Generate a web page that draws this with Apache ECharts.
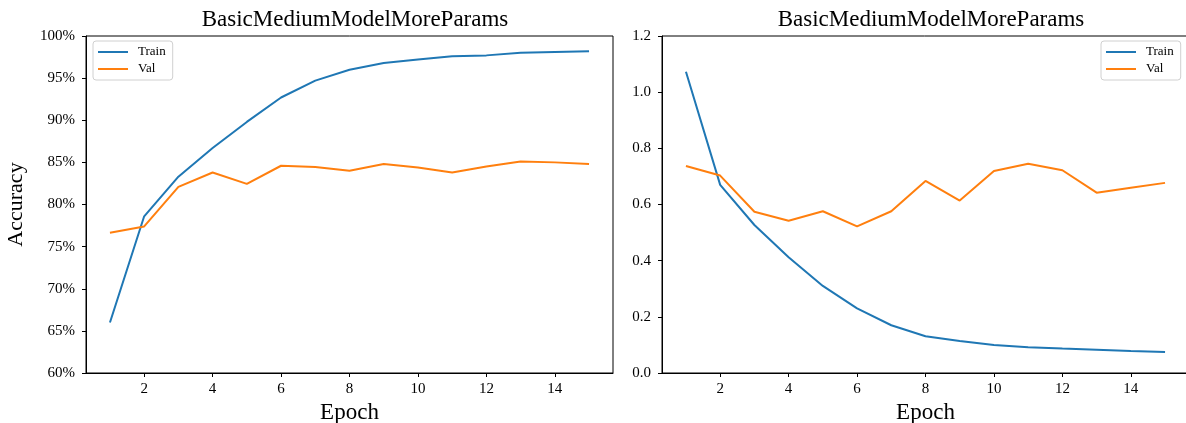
<!DOCTYPE html>
<html>
<head>
<meta charset="utf-8">
<script src="https://cdn.jsdelivr.net/npm/echarts@6/dist/echarts.min.js"></script>
<style>
  html, body { margin: 0; padding: 0; background: #fff; }
  #chart { width: 1186px; height: 423px; }
</style>
</head>
<body>
<div id="chart"></div>
<script>
// Training history of BasicMediumModelMoreParams over 15 epochs
const epochs = [1, 2, 3, 4, 5, 6, 7, 8, 9, 10, 11, 12, 13, 14, 15];

// accuracy (%)
const trainAcc = [66.0, 78.6, 83.3, 86.7, 89.8, 92.7, 94.7, 96.0, 96.8, 97.2, 97.6, 97.7, 98.0, 98.1, 98.2];
const valAcc   = [76.65, 77.4, 82.1, 83.8, 82.45, 84.6, 84.45, 84.0, 84.8, 84.4, 83.8, 84.5, 85.1, 85.0, 84.8];

// loss
const trainLoss = [1.073, 0.670, 0.527, 0.412, 0.310, 0.230, 0.170, 0.131, 0.114, 0.100, 0.092, 0.087, 0.083, 0.078, 0.075];
const valLoss   = [0.737, 0.703, 0.574, 0.542, 0.576, 0.522, 0.576, 0.684, 0.614, 0.719, 0.745, 0.722, 0.642, 0.660, 0.677];

const xTicks = [2, 4, 6, 8, 10, 12, 14];
const titleText = 'BasicMediumModelMoreParams';
const seriesNames = ['Train', 'Val'];

const BLUE = '#1f77b4';
const ORANGE = '#ff7f0e';
const FONT = '"Liberation Serif", "DejaVu Serif", serif';

const pairs = (xs, ys) => xs.map((x, i) => [x, ys[i]]);

function xAxisFor(gridIndex) {
  return {
    type: 'value', gridIndex: gridIndex, min: 0.3, max: 15.7,
    name: 'Epoch', nameLocation: 'middle', nameGap: 28,
    nameTextStyle: { fontFamily: FONT, fontSize: 23, color: '#000' },
    axisLine: { show: true, lineStyle: { color: '#000', width: 1 } },
    axisTick: { show: true, inside: false, length: 4, customValues: xTicks, lineStyle: { color: '#000' } },
    axisLabel: { customValues: xTicks, fontFamily: FONT, fontSize: 15, color: '#000', margin: 9 },
    splitLine: { show: false }
  };
}

function yAxisFor(gridIndex, opts) {
  return Object.assign({
    type: 'value', gridIndex: gridIndex,
    axisLine: { show: true, onZero: false, lineStyle: { color: '#000', width: 1 } },
    axisTick: { show: true, inside: false, length: 4, lineStyle: { color: '#000' } },
    splitLine: { show: false }
  }, opts);
}

function lineSeries(name, xIdx, data, color) {
  return {
    name: name, type: 'line', xAxisIndex: xIdx, yAxisIndex: xIdx,
    data: data, showSymbol: false, symbol: 'none', animation: false,
    lineStyle: { color: color, width: 2 }, itemStyle: { color: color }
  };
}

function legendAt(pos) {
  return Object.assign({
    data: seriesNames, orient: 'vertical', itemWidth: 30, itemHeight: 2, itemGap: 3,
    icon: 'rect', padding: [4, 7, 4, 5],
    borderColor: '#d0d0d0', borderWidth: 1, borderRadius: 3,
    backgroundColor: 'rgba(255,255,255,0.8)',
    selectedMode: false,
    textStyle: { fontFamily: FONT, fontSize: 13, color: '#000', lineHeight: 14, padding: [0, 0, 0, 5] }
  }, pos);
}

function gridAt(left) {
  return {
    left: left, top: 36, width: 527, height: 337,
    show: true, borderColor: '#000', borderWidth: 1,
    containLabel: false, outerBoundsMode: 'none'
  };
}

const chart = echarts.init(document.getElementById('chart'), null, { renderer: 'canvas' });
chart.setOption({
  animation: false,
  backgroundColor: '#fff',
  title: [
    { text: titleText, left: 350, top: 3, textAlign: 'center',
      textStyle: { fontFamily: FONT, fontSize: 23, fontWeight: 'normal', color: '#000' } },
    { text: titleText, left: 926, top: 3, textAlign: 'center',
      textStyle: { fontFamily: FONT, fontSize: 23, fontWeight: 'normal', color: '#000' } }
  ],
  legend: [
    legendAt({ left: 93, top: 41 }),
    legendAt({ left: 1101, top: 41 })
  ],
  grid: [gridAt(86), gridAt(662)],
  xAxis: [xAxisFor(0), xAxisFor(1)],
  yAxis: [
    yAxisFor(0, {
      min: 60, max: 100, interval: 5,
      name: 'Accuracy', nameLocation: 'middle', nameGap: 59,
      nameTextStyle: { fontFamily: FONT, fontSize: 22, color: '#000' },
      axisLabel: { formatter: '{value}%', fontFamily: FONT, fontSize: 15, color: '#000', margin: 11 }
    }),
    yAxisFor(1, {
      min: 0, max: 1.2, interval: 0.2,
      axisLabel: { formatter: v => v.toFixed(1), fontFamily: FONT, fontSize: 15, color: '#000', margin: 11 }
    })
  ],
  series: [
    lineSeries(seriesNames[0], 0, pairs(epochs, trainAcc), BLUE),
    lineSeries(seriesNames[1], 0, pairs(epochs, valAcc), ORANGE),
    lineSeries(seriesNames[0], 1, pairs(epochs, trainLoss), BLUE),
    lineSeries(seriesNames[1], 1, pairs(epochs, valLoss), ORANGE)
  ]
});
</script>
</body>
</html>
